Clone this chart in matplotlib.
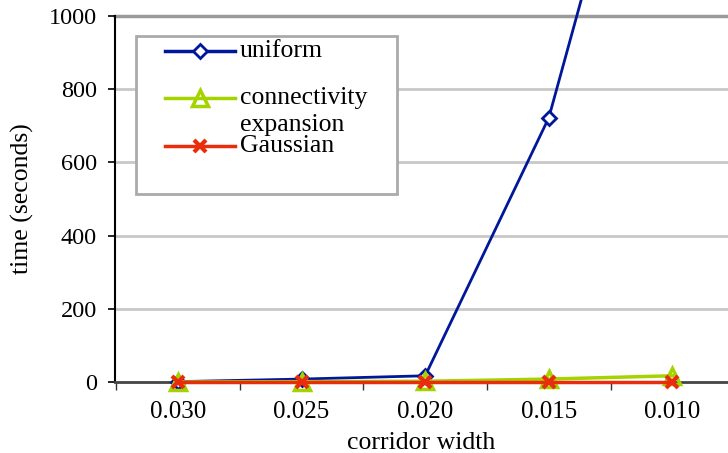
import matplotlib
matplotlib.use('Agg')
import matplotlib.pyplot as plt
from matplotlib.lines import Line2D
from matplotlib.patches import Rectangle

widths = ['0.030', '0.025', '0.020', '0.015', '0.010']
uniform = [1, 8, 17, 722, 1950]
connectivity = [0, 1, 2, 8, 17]
gaussian = [1, 1, 1, 1, 1]
yticks = [0, 200, 400, 600, 800, 1000]

c_uni = '#00179a'
c_con = '#a4d300'
c_gau = '#e82c0c'

plt.rcParams['font.family'] = ['Liberation Serif', 'DejaVu Serif']
plt.rcParams['font.size'] = 18.5

fig = plt.figure(figsize=(7.28, 4.53), dpi=100)
ax = fig.add_axes([115/728, 1 - 382/453, 1 - 115/728, 366/453])

x = range(len(widths))
ax.plot(x, uniform, color=c_uni, lw=2, marker='D', ms=7, mfc='white',
        mec=c_uni, mew=2, clip_on=False, zorder=3)
ax.plot(x, connectivity, color=c_con, lw=2.5, marker='^', ms=11, mfc='none',
        mec=c_con, mew=2.5, clip_on=False, zorder=4)
ax.plot(x, gaussian, color=c_gau, lw=2.5, marker='x', ms=9,
        mec=c_gau, mew=3, clip_on=False, zorder=5)

ax.set_xlim(-0.51, 4.45)
ax.set_ylim(0, 1000)
ax.set_yticks(yticks)
ax.set_xticks(list(x))
ax.set_xticklabels(widths, fontsize=18)
ax.set_xticks([i - 0.5 for i in range(len(widths))], minor=True)
ax.tick_params(axis='x', which='major', length=0, pad=14)
ax.tick_params(axis='x', which='minor', length=6, width=1, color='#333333')
ax.tick_params(axis='y', length=5, width=1.2, pad=8, labelsize=17.5)

for v in yticks[1:-1]:
    ax.axhline(v, color='#c8c8c8', lw=2, zorder=1)
ax.axhline(1000, color='#9a9a9a', lw=2.5, zorder=1, clip_on=False)

for s in ['top', 'right']:
    ax.spines[s].set_visible(False)
ax.spines['left'].set_linewidth(1.5)
ax.spines['bottom'].set_linewidth(2)
ax.spines['bottom'].set_color('#444444')

ax.set_ylabel('time (seconds)', labelpad=11)
ax.set_xlabel('corridor width', labelpad=6)

# legend drawn by hand to match the boxed Excel legend
W, H = 728.0, 453.0
fig.add_artist(Rectangle((136/W, 1 - 194/H), 261/W, 158/H, transform=fig.transFigure,
                         facecolor='white', edgecolor='#aaaaaa', lw=2, zorder=6))
rows = [(51, c_uni, 'D', 7, 'white', 2, 'uniform'),
        (98, c_con, '^', 11, 'none', 2.5, 'connectivity\nexpansion'),
        (146, c_gau, 'x', 9, c_gau, 3, 'Gaussian')]
for yy, c, m, ms, fc, mw, lab in rows:
    fig.add_artist(Line2D([165/W, 235/W], [1 - yy/H, 1 - yy/H], transform=fig.transFigure,
                          color=c, lw=2.5, zorder=7))
    fig.add_artist(Line2D([200/W], [1 - yy/H], transform=fig.transFigure, marker=m, ms=ms,
                          mfc=fc, mec=c, mew=mw, zorder=8))
    for k, part in enumerate(lab.split('\n')):
        fig.text(240/W, 1 - (yy + 6 + 27 * k)/H, part, va='baseline', ha='left', zorder=9)

fig.savefig('out.png', dpi=100)
